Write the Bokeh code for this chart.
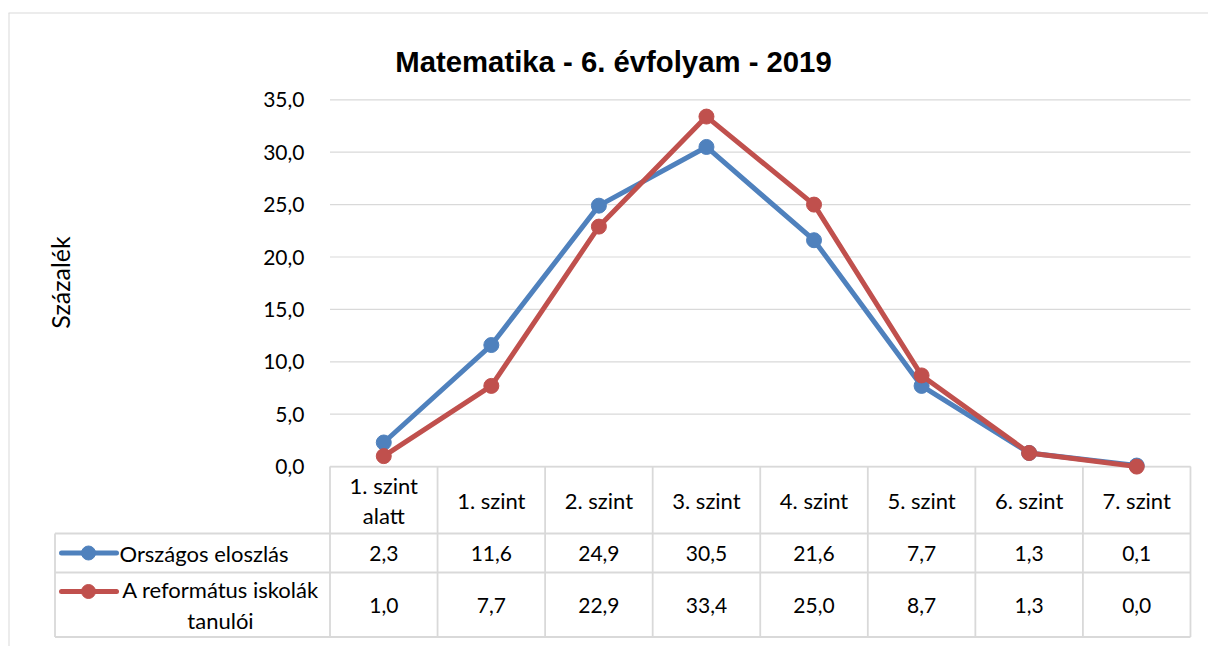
import math
from bokeh.plotting import figure
from bokeh.models import Range1d
from bokeh.embed import file_html
from bokeh.resources import INLINE
from bokeh.core.properties import value

# ---------------- data ----------------
categories = ["1. szint\nalatt", "1. szint", "2. szint", "3. szint",
              "4. szint", "5. szint", "6. szint", "7. szint"]
series_names = ["Országos eloszlás", "A református iskolák\ntanulói"]
orszagos = [2.3, 11.6, 24.9, 30.5, 21.6, 7.7, 1.3, 0.1]
reformatus = [1.0, 7.7, 22.9, 33.4, 25.0, 8.7, 1.3, 0.0]
y_ticks = [0, 5, 10, 15, 20, 25, 30, 35]
y_tick_labels = ["0,0", "5,0", "10,0", "15,0", "20,0", "25,0", "30,0", "35,0"]
title_text = "Matematika - 6. évfolyam - 2019"
y_label = "Százalék"

# ---------------- layout (page pixels) ----------------
W, H = 1208, 646
OFF = 0
COL0_PX = 329.5
COL_W = 107.56
Y0_PX = 466.1
PX_PER_UNIT = 10.48


def px_x(page_x):
    return (page_x - COL0_PX) / COL_W - 0.5


def px_y(page_y):
    return (Y0_PX - page_y) / PX_PER_UNIT


BLUE = "#4f81bd"
RED = "#c0504d"
GRID = "#d9d9d9"
BODY_FONT = value("Lato")
TEXT_SIZE = "22px"
NUM_SIZE = "21px"
LH = 1.12

p = figure(width=W, height=H,
           x_range=Range1d(px_x(OFF), px_x(OFF + W)),
           y_range=Range1d(px_y(OFF + H), px_y(OFF)),
           output_backend="svg", toolbar_location=None,
           x_axis_type=None, y_axis_type=None, min_border=0)
p.outline_line_color = None
p.background_fill_color = "white"
p.border_fill_color = "white"

n = len(categories)
xs = list(range(n))

# outer chart border (left + top)
p.segment(x0=[px_x(8.5), px_x(8)], y0=[px_y(12.5), px_y(12.5)],
          x1=[px_x(8.5), px_x(1210)], y1=[px_y(650), px_y(12.5)],
          line_color=GRID, line_width=1)

# gridlines
p.segment(x0=[-0.5] * len(y_ticks), y0=y_ticks,
          x1=[n - 0.5] * len(y_ticks), y1=y_ticks,
          line_color=GRID, line_width=1.2)

# table geometry
hdr_bot = px_y(533)
row1_bot = px_y(572)
row2_bot = px_y(636.5)
left_x = px_x(54.5)

# vertical table lines
vx = [i - 0.5 for i in range(n + 1)]
p.segment(x0=vx, y0=[0] * len(vx), x1=vx, y1=[row2_bot] * len(vx),
          line_color=GRID, line_width=1.8)
p.segment(x0=[left_x], y0=[hdr_bot], x1=[left_x], y1=[row2_bot],
          line_color=GRID, line_width=1.8)
# horizontal table lines
p.segment(x0=[-0.5, left_x, left_x, left_x], y0=[0, hdr_bot, row1_bot, row2_bot],
          x1=[n - 0.5] * 4, y1=[0, hdr_bot, row1_bot, row2_bot],
          line_color=GRID, line_width=1.8)

# series lines
p.line(xs, orszagos, line_color=BLUE, line_width=5, line_join="round")
p.scatter(xs, orszagos, size=15, fill_color=BLUE, line_color=BLUE)
p.line(xs, reformatus, line_color=RED, line_width=5, line_join="round")
p.scatter(xs, reformatus, size=15, fill_color=RED, line_color=RED)

# title
p.text(x=[px_x(613)], y=[px_y(60.5)], text=[title_text],
       text_font=value("Liberation Sans"), text_font_style="bold",
       text_font_size="29.3px", text_align="center", text_baseline="alphabetic",
       text_color="black")

# y tick labels
p.text(x=[px_x(304)] * len(y_ticks), y=y_ticks, text=y_tick_labels,
       text_font=BODY_FONT, text_font_size=NUM_SIZE, text_align="right",
       text_baseline="middle", text_color="black")

# y axis label
p.text(x=[px_x(59)], y=[px_y(282)], text=[y_label], angle=math.pi / 2,
       text_font=BODY_FONT, text_font_size="25px", text_align="center",
       text_baseline="middle", text_color="black")

# header row
p.text(x=xs, y=[px_y(500)] * n, text=categories,
       text_font=BODY_FONT, text_font_size=TEXT_SIZE, text_align="center",
       text_baseline="middle", text_color="black", text_line_height=LH)


def fmt(v):
    return f"{v:.1f}".replace(".", ",")


row1_y = px_y(552.5)
row2_y = px_y(605)
p.text(x=xs, y=[row1_y] * n, text=[fmt(v) for v in orszagos],
       text_font=BODY_FONT, text_font_size=NUM_SIZE, text_align="center",
       text_baseline="middle", text_color="black")
p.text(x=xs, y=[row2_y] * n, text=[fmt(v) for v in reformatus],
       text_font=BODY_FONT, text_font_size=NUM_SIZE, text_align="center",
       text_baseline="middle", text_color="black")

# legend keys inside table
key_y = [px_y(552.5), px_y(591)]
for ky, col in zip(key_y, [BLUE, RED]):
    p.line([px_x(61), px_x(116)], [ky, ky], line_color=col, line_width=5, line_cap="round")
    p.scatter([px_x(88)], [ky], size=14, fill_color=col, line_color=col)

p.text(x=[px_x(119)], y=[row1_y], text=[series_names[0]],
       text_font=BODY_FONT, text_font_size=TEXT_SIZE, text_align="left",
       text_baseline="middle", text_color="black")
p.text(x=[px_x(220)], y=[px_y(604.5)], text=[series_names[1]],
       text_font=BODY_FONT, text_font_size=TEXT_SIZE, text_align="center",
       text_baseline="middle", text_color="black", text_line_height=LH)

open("out.html", "w").write(file_html(p, INLINE))
